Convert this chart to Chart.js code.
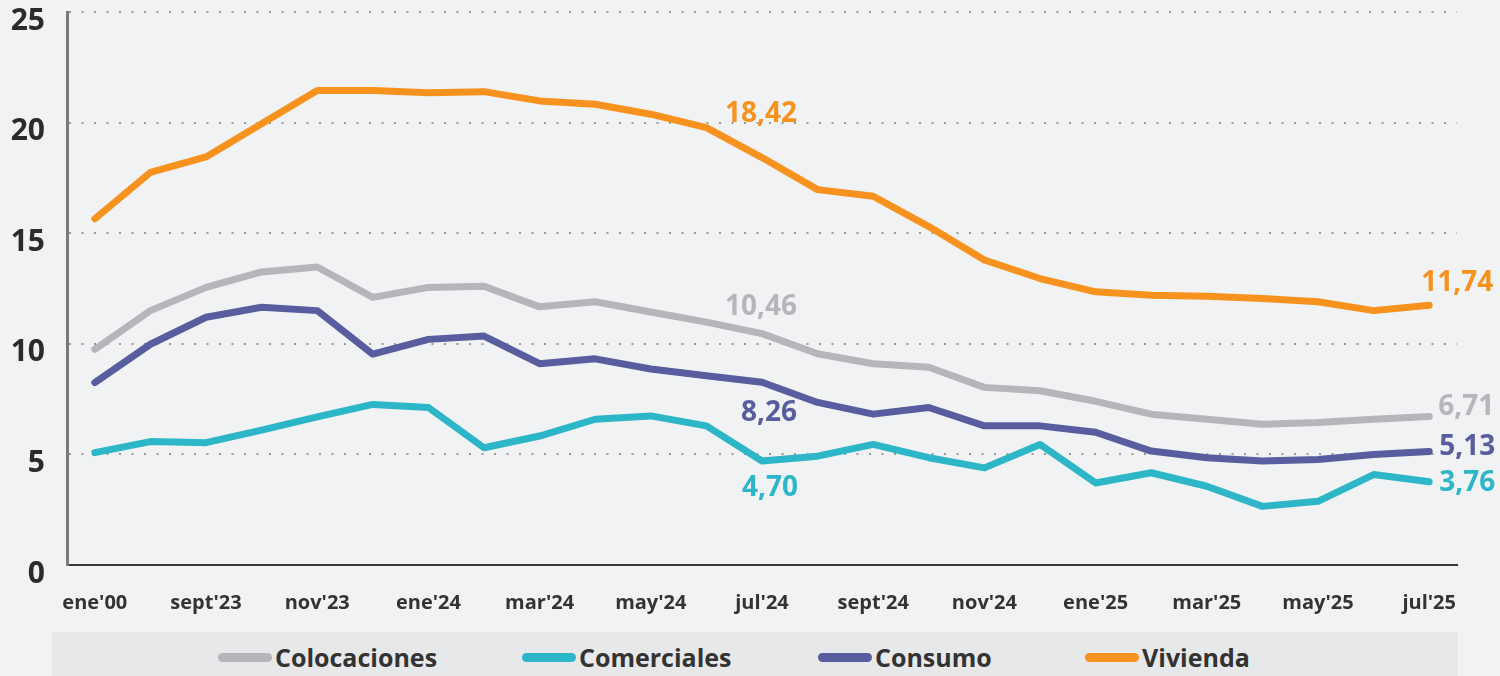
<!DOCTYPE html>
<html>
<head>
<meta charset="utf-8">
<script src="https://cdn.jsdelivr.net/npm/chart.js@4.4.0/dist/chart.umd.min.js"></script>
<style>
html,body{margin:0;padding:0;background:#f1f2f3;}
#wrap{position:relative;width:1500px;height:676px;overflow:hidden;font-family:"Open Sans",sans-serif;background:#f1f2f3;}
#cvbox{position:absolute;left:0;top:0;width:1500px;height:632px;}
#legend{position:absolute;left:52px;top:632px;width:1406px;height:44px;background:#e7e8e9;}
.li{position:absolute;top:3px;height:44px;display:flex;align-items:center;}
.mk{width:54px;height:9px;border-radius:5px;margin-right:3px;}
.lt{font-weight:700;font-size:25px;color:#333;line-height:1;}
</style>
</head>
<body>
<div id="wrap">
  <div id="cvbox"><canvas id="cv" width="1500" height="632"></canvas></div>
  <div id="legend"></div>
</div>
<script>
// ---- data ----
const months = ["ene'00","ago'23","sept'23","oct'23","nov'23","dic'23","ene'24","feb'24","mar'24","abr'24","may'24","jun'24","jul'24","ago'24","sept'24","oct'24","nov'24","dic'24","ene'25","feb'25","mar'25","abr'25","may'25","jun'25","jul'25"];
const colocaciones = [9.75,11.5,12.55,13.25,13.47,12.1,12.55,12.6,11.67,11.9,11.44,10.98,10.46,9.55,9.1,8.94,8.03,7.88,7.4,6.82,6.59,6.36,6.44,6.59,6.71];
const comerciales  = [5.08,5.58,5.53,6.1,6.7,7.26,7.12,5.3,5.83,6.59,6.74,6.29,4.70,4.92,5.45,4.85,4.39,5.45,3.71,4.17,3.56,2.65,2.88,4.09,3.76];
const consumo      = [8.25,9.98,11.2,11.65,11.5,9.53,10.2,10.35,9.1,9.32,8.86,8.56,8.26,7.35,6.82,7.12,6.29,6.29,6.0,5.15,4.85,4.7,4.77,5.0,5.13];
const vivienda     = [15.65,17.75,18.45,19.95,21.45,21.45,21.35,21.4,20.98,20.83,20.38,19.77,18.42,16.97,16.67,15.3,13.79,12.95,12.35,12.2,12.15,12.05,11.9,11.5,11.74];
const seriesNames  = ["Colocaciones","Comerciales","Consumo","Vivienda"];
const yTicks = [0,5,10,15,20,25];
const labelIndices = [12, 24];

const colors = ["#b5b6b9","#2db6c7","#585d9f","#f7921f"];
const labelStyles = [
  [{dx:35,dy:-27},{dx:65,dy:-10}],
  [{dx:36,dy:27},{dx:66,dy:1}],
  [{dx:35,dy:31},{dx:66,dy:-4}],
  [{dx:35,dy:-44},{dx:64,dy:-22}]
];

const valueLabelPlugin = {
  id: 'valueLabels',
  afterDatasetsDraw(chart) {
    const ctx = chart.ctx;
    chart.data.datasets.forEach((ds, di) => {
      const meta = chart.getDatasetMeta(di);
      labelIndices.forEach((idx, k) => {
        const pt = meta.data[idx];
        const st = labelStyles[di][k];
        const txt = ds.data[idx].toFixed(2).replace('.', ',');
        ctx.save();
        ctx.font = '700 28px "Open Sans"';
        ctx.fillStyle = ds.borderColor;
        ctx.textAlign = 'right';
        ctx.textBaseline = 'middle';
        ctx.fillText(txt, pt.x + st.dx, pt.y + st.dy);
        ctx.restore();
      });
    });
  }
};

const allSeries = [colocaciones, comerciales, consumo, vivienda];
const datasets = allSeries.map((d, i) => ({
  label: seriesNames[i],
  data: d,
  borderColor: colors[i],
  backgroundColor: colors[i],
  borderWidth: 7,
  pointRadius: 0,
  pointHoverRadius: 0,
  tension: 0,
  borderCapStyle: 'round',
  borderJoinStyle: 'round',
  fill: false,
  clip: false
}));

new Chart(document.getElementById('cv'), {
  type: 'line',
  data: { labels: months, datasets },
  plugins: [valueLabelPlugin],
  options: {
    responsive: false,
    animation: false,
    devicePixelRatio: 1,
    layout: { padding: { top: 12, right: 43, left: 0, bottom: 0 } },
    plugins: { legend: { display: false }, tooltip: { enabled: false } },
    scales: {
      x: {
        type: 'category',
        offset: true,
        grid: { display: false, drawTicks: false },
        border: { display: true, color: '#3a3a3a', width: 2 },
        ticks: {
          autoSkip: false,
          maxRotation: 0,
          minRotation: 0,
          padding: 26,
          color: '#333',
          font: { family: 'Open Sans', weight: '700', size: 20 },
          callback: function(v, i) { return i % 2 === 0 ? this.getLabelForValue(v) : ''; }
        },
        afterFit: (s) => { s.height = 67; }
      },
      y: {
        min: 0, max: 25,
        afterBuildTicks: (s) => { s.ticks = yTicks.map(v => ({ value: v })); },
        grid: { color: '#9a9a9a', lineWidth: 2, drawTicks: false },
        border: { display: true, color: '#7a7a7a', width: 3, dash: [2, 10.5] },
        ticks: {
          padding: 22,
          labelOffset: 9,
          color: '#2b2b2b',
          font: { family: 'Open Sans', weight: '700', size: 30 }
        },
        afterFit: (s) => { s.width = 67; s.paddingTop = 0; s.paddingBottom = 0; }
      }
    }
  }
});

// HTML legend built from series names and colors
const legendLefts = [166, 470, 766, 1033];
const lg = document.getElementById('legend');
seriesNames.forEach((n, i) => {
  const it = document.createElement('div');
  it.className = 'li';
  it.style.left = legendLefts[i] + 'px';
  const mk = document.createElement('div');
  mk.className = 'mk';
  mk.style.background = colors[i];
  const t = document.createElement('span');
  t.className = 'lt';
  t.textContent = n;
  it.appendChild(mk); it.appendChild(t);
  lg.appendChild(it);
});
</script>
</body>
</html>
